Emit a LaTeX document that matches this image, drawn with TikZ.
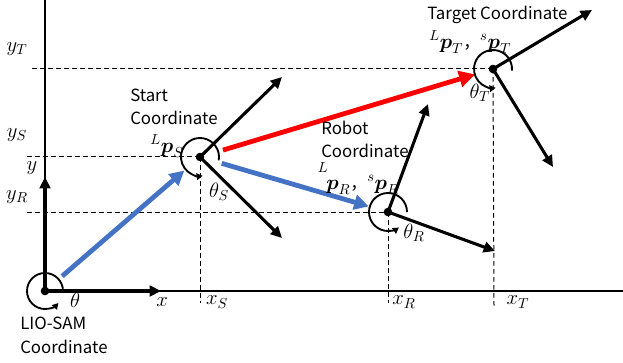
\RequirePackage{fix-cm}
\documentclass[tikz,border=0pt]{standalone}
\usepackage{amsmath}
\usepackage{fontspec}
\newfontfamily\cjk{Noto Sans CJK JP}
\usetikzlibrary{arrows.meta,calc}
\definecolor{myblue}{RGB}{68,114,196}
\definecolor{myred}{RGB}{255,0,0}
\begin{document}
\begin{tikzpicture}[x=0.75pt,y=-0.75pt,
  blk/.style={line width=2.3pt,-{Triangle[length=8.5pt,width=8pt]}},
  bluearr/.style={myblue,line width=3.6pt,-{Triangle[length=11pt,width=11pt]}},
  redarr/.style={myred,line width=3.6pt,-{Triangle[length=12pt,width=12pt]}},
  dsh/.style={line width=0.75pt,dash pattern=on 3.5pt off 2.5pt},
  axis/.style={line width=0.9pt},
  rot/.style={line width=1.4pt,-{Triangle[length=4.5pt,width=5pt]}},
  dotc/.style={fill=black},
  txt/.style={font=\cjk\fontsize{12.6}{17.3}\selectfont,inner sep=0pt,align=left},
  mth/.style={font=\fontsize{15.5}{17}\selectfont,inner sep=0pt},
]
\useasboundingbox (0,0) rectangle (623,363);
% centres
\coordinate (O) at (45,291);
\coordinate (S) at (200,157);
\coordinate (R) at (388,212);
\coordinate (T) at (493,69);
% tips
\coordinate (Oy) at (45,177);
\coordinate (Ox) at (161,291);
\coordinate (S1) at (282,77);
\coordinate (S2) at (282,238);
\coordinate (R1) at (428,104);
\coordinate (R2) at (495,251);
\coordinate (T1) at (592,10);
\coordinate (T2) at (553,167);
% dashed ends
\coordinate (dT) at (32,69);
\coordinate (dS) at (27,157);
\coordinate (dR) at (27,212);
\coordinate (vS) at (200,303);
\coordinate (vR) at (388,303);
\coordinate (vT) at (494,307);
\coordinate (axtop) at (45,0);
\coordinate (axright) at (623,291);
% axes
\draw[axis] (axtop) -- (O) -- (axright);
% dashed guides
\draw[dsh] (dT) -- (T);
\draw[dsh] (dS) -- (S);
\draw[dsh] (dR) -- (R);
\draw[dsh] (S) -- (vS);
\draw[dsh] (R) -- (vR);
\draw[dsh] (T) -- (vT);
% coloured vectors
\draw[bluearr,shorten <=17pt,shorten >=15.5pt] (O) -- (S);
\draw[bluearr,shorten <=17pt,shorten >=15pt] (S) -- (R);
\draw[redarr,shorten <=18pt,shorten >=14pt] (S) -- (T);
% black frames
\draw[blk] (O) -- (Oy);
\draw[blk] (O) -- (Ox);
\draw[blk] (S) -- (S1);
\draw[blk] (S) -- (S2);
\draw[blk] (R) -- (R1);
\draw[blk] (R) -- (R2);
\draw[blk] (T) -- (T1);
\draw[blk] (T) -- (T2);
% rotation arcs
\draw[rot] ($(O)+(0:18)$) arc[start angle=0,end angle=-318,radius=18];
\draw[rot] ($(S)+(10:19)$) arc[start angle=10,end angle=-278,radius=19];
\draw[rot] ($(R)+(0:19)$) arc[start angle=0,end angle=-305,radius=19];
\draw[rot] ($(T)+(5:19)$) arc[start angle=5,end angle=-278,radius=19];
% dots
\fill[dotc] (O) circle[radius=4.3];
\fill[dotc] (S) circle[radius=4.3];
\fill[dotc] (R) circle[radius=4.3];
\fill[dotc] (T) circle[radius=4.3];
% axis labels
\node[mth] (lyT) at (17,49) {$y_T$};
\node[mth] (lyS) at (17,135) {$y_S$};
\node[mth] (ly) at (32,168) {$y$};
\node[mth] (lyR) at (17,197) {$y_R$};
\node[mth] (lx) at (162,302) {$x$};
\node[mth] (lxS) at (217,302) {$x_S$};
\node[mth] (lxR) at (404,302) {$x_R$};
\node[mth] (lxT) at (518,302) {$x_T$};
\node[mth] (lth) at (75,300) {$\theta$};
\node[mth] (lthS) at (219,192) {$\theta_S$};
\node[mth] (lthR) at (414,233) {$\theta_R$};
\node[mth] (lthT) at (480,93) {$\theta_T$};
% texts
\node[txt,anchor=west] (tLIO) at (20,323) {LIO-SAM};
\node[txt,anchor=west] (tLIOc) at (20,347) {Coordinate};
\node[txt,anchor=west] (tS) at (130,95) {Start};
\node[txt,anchor=west] (tSc) at (130,118) {Coordinate};
\node[txt,anchor=west] (tR) at (321,128) {Robot};
\node[txt,anchor=west] (tRc) at (321,151) {Coordinate};
\node[txt,anchor=west] (tT) at (427,15) {Target Coordinate};
% position labels
\node[mth] (pS) at (167,146) {${}^{L}\boldsymbol{p}_S$};
\node[mth,anchor=west] (pT) at (429,42) {${}^{L}\boldsymbol{p}_T${\cjk\fontsize{12.6}{14}\selectfont ，}${}^{s}\boldsymbol{p}_T$};
\node[mth] (pRL) at (323,171) {${}^{L}$};
\node[mth,anchor=west] (pR) at (326,185) {$\boldsymbol{p}_R${\cjk\fontsize{12.6}{14}\selectfont ，}${}^{s}\boldsymbol{p}_R$};
\end{tikzpicture}
\end{document}
